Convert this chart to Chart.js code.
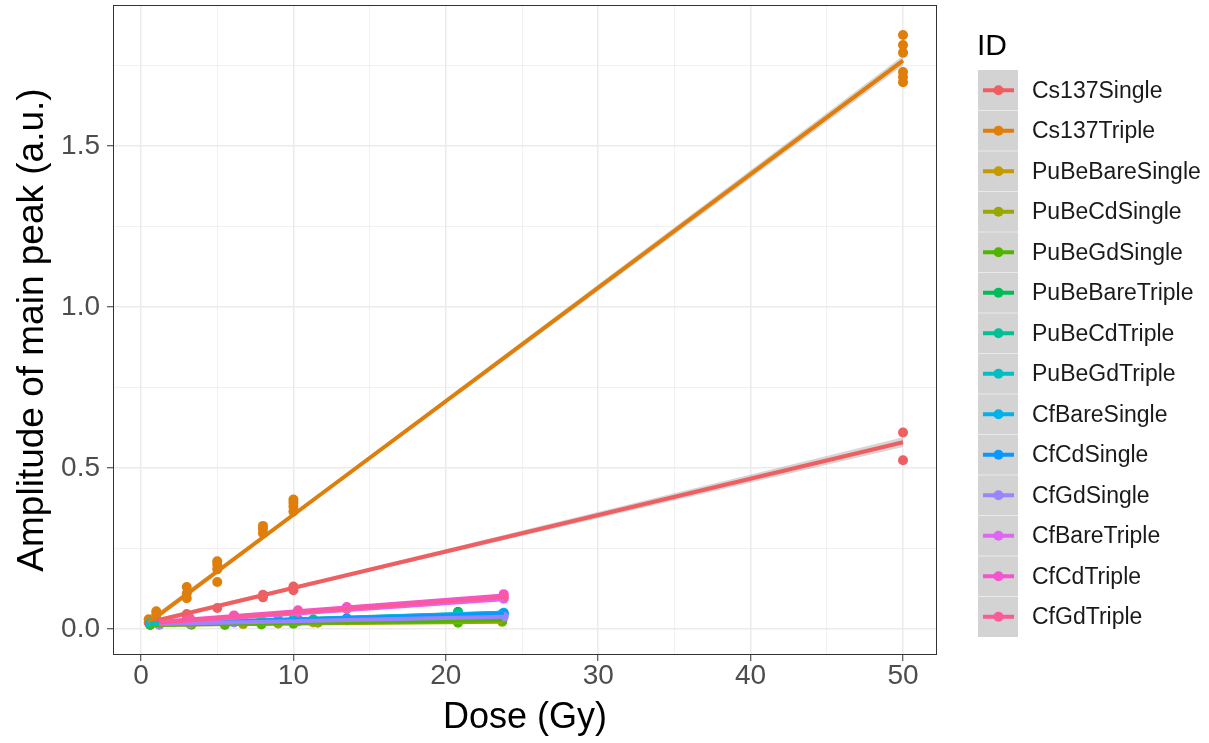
<!DOCTYPE html>
<html>
<head>
<meta charset="utf-8">
<script src="https://cdn.jsdelivr.net/npm/chart.js@4.4.1/dist/chart.umd.min.js"></script>
<style>
  html, body { margin: 0; padding: 0; background: #fff; }
  #wrap { width: 1209px; height: 743px; }
</style>
</head>
<body>
<div id="wrap"><canvas id="dose-chart" width="1209" height="743"></canvas></div>
<script>
// series names (legend order) and ggplot hue colours
const seriesNames = [
    'Cs137Single', 'Cs137Triple', 'PuBeBareSingle', 'PuBeCdSingle', 'PuBeGdSingle',
    'PuBeBareTriple', 'PuBeCdTriple', 'PuBeGdTriple', 'CfBareSingle', 'CfCdSingle',
    'CfGdSingle', 'CfBareTriple', 'CfCdTriple', 'CfGdTriple'
];
const seriesColors = [
    '#EF5F62', '#E07E0A', '#C49A00', '#99A800', '#53B400',
    '#00BC56', '#00C094', '#00BFC4', '#00B2EB', '#0A98FF',
    '#9C84FF', '#DF66F2', '#F553CF', '#FA5A98'
];

// measured points: dose (Gy) and amplitude (a.u.)
const cs137SingleDose = [0.5, 1, 3, 3, 5, 8, 8, 10, 10, 50, 50];
const cs137SingleAmp = [0.02, 0.03, 0.04, 0.046, 0.065, 0.098, 0.106, 0.12, 0.132, 0.61, 0.524];
const cs137TripleDose = [0.5, 1, 1, 3, 3, 3, 5, 5, 5, 5, 8, 8, 8, 10, 10, 10, 10, 50, 50, 50, 50, 50, 50];
const cs137TripleAmp = [0.03, 0.045, 0.055, 0.095, 0.11, 0.13, 0.146, 0.185, 0.2, 0.21, 0.297, 0.31, 0.32, 0.365, 0.38, 0.392, 0.402, 1.845, 1.814, 1.79, 1.73, 1.714, 1.698];
const puBeBareSingleDose = [0.6, 5.5, 9.0, 11.3, 23.7];
const puBeBareSingleAmp = [0.014, 0.016, 0.018, 0.02, 0.026];
const puBeCdSingleDose = [0.6, 6.7, 9.0, 11.6, 23.7];
const puBeCdSingleAmp = [0.013, 0.015, 0.017, 0.019, 0.022];
const puBeGdSingleDose = [0.6, 3.3, 5.5, 7.9, 10, 20.8, 23.7];
const puBeGdSingleAmp = [0.012, 0.013, 0.012, 0.014, 0.016, 0.019, 0.026];
const puBeBareTripleDose = [0.6, 3.3, 7.9, 10, 20.8, 23.7];
const puBeBareTripleAmp = [0.016, 0.02, 0.025, 0.028, 0.053, 0.045];
const puBeCdTripleDose = [0.6, 5.5, 9.0, 11.3, 20.8];
const puBeCdTripleAmp = [0.018, 0.024, 0.028, 0.03, 0.048];
const puBeGdTripleDose = [0.6, 3.3, 6.7, 10, 23.7];
const puBeGdTripleAmp = [0.017, 0.02, 0.026, 0.03, 0.047];
const cfDose = [1.2, 3.2, 6.1, 10.3, 13.5, 23.8];
const cfBareSingleAmp = [0.014, 0.018, 0.022, 0.027, 0.032, 0.05];
const cfCdSingleAmp = [0.015, 0.019, 0.023, 0.028, 0.033, 0.046];
const cfGdSingleAmp = [0.013, 0.016, 0.02, 0.023, 0.026, 0.038];
const cfBareTripleAmp = [0.02, 0.03, 0.04, 0.055, 0.065, 0.094];
const cfCdTripleAmp = [0.022, 0.034, 0.042, 0.058, 0.068, 0.108];
const cfGdTripleAmp = [0.02, 0.03, 0.038, 0.052, 0.062, 0.099];

const seriesDose = [
    cs137SingleDose, cs137TripleDose, puBeBareSingleDose, puBeCdSingleDose, puBeGdSingleDose,
    puBeBareTripleDose, puBeCdTripleDose, puBeGdTripleDose, cfDose, cfDose, cfDose, cfDose, cfDose, cfDose
];
const seriesAmp = [
    cs137SingleAmp, cs137TripleAmp, puBeBareSingleAmp, puBeCdSingleAmp, puBeGdSingleAmp,
    puBeBareTripleAmp, puBeCdTripleAmp, puBeGdTripleAmp, cfBareSingleAmp, cfCdSingleAmp,
    cfGdSingleAmp, cfBareTripleAmp, cfCdTripleAmp, cfGdTripleAmp
];

// linear fit ends
const fitStartDose = [0.5, 0.5, 0.6, 0.6, 0.6, 0.6, 0.6, 0.6, 1.2, 1.2, 1.2, 1.2, 1.2, 1.2];
const fitStartAmp = [0.02, 0.02, 0.014, 0.013, 0.012, 0.015, 0.016, 0.015, 0.015, 0.016, 0.015, 0.018, 0.022, 0.02];
const fitEndDose = [50, 50, 23.7, 23.7, 23.7, 23.7, 23.7, 23.7, 23.8, 23.8, 23.8, 23.8, 23.8, 23.8];
const fitEndAmp = [0.58, 1.765, 0.025, 0.022, 0.028, 0.046, 0.05, 0.048, 0.05, 0.047, 0.038, 0.092, 0.104, 0.098];

// grey confidence bands of the two Cs137 fits
const bandDose = [0.5, 12, 50];
const cs137SingleBandLow = [0.012, 0.145, 0.565];
const cs137SingleBandHigh = [0.028, 0.155, 0.595];
const cs137TripleBandLow = [0.01, 0.419, 1.75];
const cs137TripleBandHigh = [0.03, 0.431, 1.78];

// axis ticks
const xMajorTicks = [0, 10, 20, 30, 40, 50];
const xMinorTicks = [5, 15, 25, 35, 45];
const yMajorTicks = [0, 0.5, 1.0, 1.5];
const yMinorTicks = [0.25, 0.75, 1.25, 1.75];

const FONT = '"Liberation Sans", Arial, Helvetica, sans-serif';
const toPoints = (xs, ys) => xs.map((x, i) => ({ x: x, y: ys[i] }));

const datasets = [];
const n = seriesNames.length;

seriesNames.forEach((name, i) => {
    datasets.push({
        label: name,
        data: toPoints(seriesDose[i], seriesAmp[i]),
        showLine: false,
        pointRadius: 5,
        pointHoverRadius: 5,
        pointBackgroundColor: seriesColors[i],
        pointBorderWidth: 0,
        order: 100 + (n - i),
    });
});

[[cs137SingleBandLow, cs137SingleBandHigh], [cs137TripleBandLow, cs137TripleBandHigh]].forEach((band) => {
    const upperIndex = datasets.length;
    datasets.push({
        data: toPoints(bandDose, band[1]),
        showLine: true,
        borderWidth: 0,
        pointRadius: 0,
        fill: false,
        order: 50,
    });
    datasets.push({
        data: toPoints(bandDose, band[0]),
        showLine: true,
        borderWidth: 0,
        pointRadius: 0,
        backgroundColor: 'rgba(153, 153, 153, 0.4)',
        fill: { target: upperIndex },
        order: 50,
    });
});

seriesNames.forEach((name, i) => {
    datasets.push({
        data: [
            { x: fitStartDose[i], y: fitStartAmp[i] },
            { x: fitEndDose[i], y: fitEndAmp[i] },
        ],
        showLine: true,
        borderColor: seriesColors[i],
        borderWidth: 4,
        pointRadius: 0,
        fill: false,
        order: n - i,
    });
});

function setTicks(major, minor) {
    return (scale) => {
        scale.ticks = major.concat(minor).sort((a, b) => a - b).map(v => ({ value: v }));
    };
}

// ggplot-like legend on the right and panel border
const idLegend = {
    id: 'idLegend',
    afterDatasetsDraw(chart) {
        const ctx = chart.ctx;
        const a = chart.chartArea;
        ctx.save();
        ctx.strokeStyle = '#333333';
        ctx.lineWidth = 1;
        ctx.strokeRect(a.left + 0.5, a.top + 0.5, a.right - a.left - 1, a.bottom - a.top - 1);
        ctx.restore();
    },
    afterDraw(chart) {
        const ctx = chart.ctx;
        const keyX = 978, keyW = 40, keyTop = 70, keyH = 40.5;
        ctx.save();
        ctx.fillStyle = '#000000';
        ctx.font = '30px ' + FONT;
        ctx.textBaseline = 'alphabetic';
        ctx.fillText('ID', 977, 55);

        ctx.fillStyle = '#D3D3D3';
        ctx.fillRect(keyX, keyTop, keyW, keyH * n);
        ctx.font = '23px ' + FONT;
        ctx.textBaseline = 'middle';
        seriesNames.forEach((name, i) => {
            const cy = keyTop + keyH * (i + 0.5);
            if (i > 0) {
                ctx.strokeStyle = 'rgba(255,255,255,0.5)';
                ctx.lineWidth = 1;
                ctx.beginPath();
                ctx.moveTo(keyX, keyTop + keyH * i);
                ctx.lineTo(keyX + keyW, keyTop + keyH * i);
                ctx.stroke();
            }
            ctx.strokeStyle = seriesColors[i];
            ctx.lineWidth = 4;
            ctx.beginPath();
            ctx.moveTo(983, cy);
            ctx.lineTo(1014, cy);
            ctx.stroke();
            ctx.fillStyle = seriesColors[i];
            ctx.beginPath();
            ctx.arc(998.5, cy, 5, 0, Math.PI * 2);
            ctx.fill();
            ctx.fillStyle = '#1A1A1A';
            ctx.fillText(name, 1032, cy + 1);
        });
        ctx.restore();
    }
};

new Chart(document.getElementById('dose-chart'), {
    type: 'scatter',
    data: { datasets: datasets },
    options: {
        responsive: false,
        animation: false,
        layout: { padding: { top: 5, right: 272, left: 0, bottom: 0 } },
        plugins: {
            legend: { display: false },
            tooltip: { enabled: false },
        },
        scales: {
            x: {
                type: 'linear',
                min: -1.84,
                max: 52.23,
                afterBuildTicks: setTicks(xMajorTicks, xMinorTicks),
                afterFit: (scale) => {
                    scale.height = 88;
                    scale.paddingLeft = 0;
                    scale.paddingRight = 0;
                },
                border: { display: false },
                grid: {
                    color: '#EBEBEB',
                    lineWidth: (c) => xMajorTicks.includes(c.tick.value) ? 1.5 : 0.7,
                    tickColor: (c) => xMajorTicks.includes(c.tick.value) ? '#333333' : 'rgba(0,0,0,0)',
                    tickLength: 6,
                    tickWidth: 1,
                },
                ticks: {
                    autoSkip: false,
                    maxRotation: 0,
                    padding: -2,
                    color: '#4D4D4D',
                    font: { family: FONT, size: 28 },
                    callback: (v) => xMajorTicks.includes(v) ? String(v) : '',
                },
                title: {
                    display: true,
                    text: 'Dose (Gy)',
                    color: '#000000',
                    font: { family: FONT, size: 36 },
                    padding: { top: 0, bottom: 3 },
                },
            },
            y: {
                type: 'linear',
                min: -0.081,
                max: 1.938,
                afterBuildTicks: setTicks(yMajorTicks, yMinorTicks),
                afterFit: (scale) => {
                    scale.width = 113;
                    scale.paddingTop = 0;
                    scale.paddingBottom = 0;
                },
                border: { display: false },
                grid: {
                    color: '#EBEBEB',
                    lineWidth: (c) => yMajorTicks.includes(c.tick.value) ? 1.5 : 0.7,
                    tickColor: (c) => yMajorTicks.includes(c.tick.value) ? '#333333' : 'rgba(0,0,0,0)',
                    tickLength: 6,
                    tickWidth: 1,
                },
                ticks: {
                    autoSkip: false,
                    padding: 7,
                    color: '#4D4D4D',
                    font: { family: FONT, size: 28 },
                    callback: (v) => yMajorTicks.includes(v) ? v.toFixed(1) : '',
                },
                title: {
                    display: true,
                    text: 'Amplitude of main peak (a.u.)',
                    color: '#000000',
                    font: { family: FONT, size: 37 },
                    padding: { top: 11, bottom: 0 },
                },
            },
        },
    },
    plugins: [idLegend],
});
</script>
</body>
</html>
